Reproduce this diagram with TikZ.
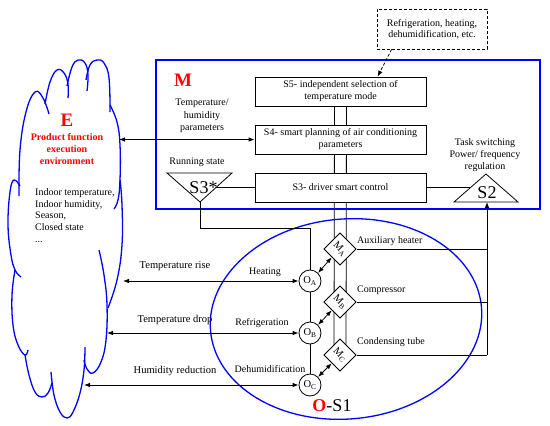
\documentclass[tikz,border=0pt]{standalone}
\usepackage{fontspec}
\setmainfont{Liberation Serif}
\usetikzlibrary{arrows.meta,shapes.geometric,calc,backgrounds}
\begin{document}
\begin{tikzpicture}[x=1pt,y=-1pt,
  every node/.style={font=\fontsize{10}{12}\selectfont, inner sep=0pt},
  line/.style={draw=black, line width=0.8pt},
  arr/.style={draw=black, line width=0.8pt, -{Latex[length=6pt,width=4.5pt]}},
  darr/.style={draw=black, line width=0.8pt, {Latex[length=6pt,width=4.5pt]}-{Latex[length=6pt,width=4.5pt]}},
  sbox/.style={draw, line width=0.8pt, fill=white, minimum width=171pt, minimum height=29pt, align=center},
  bluel/.style={draw=blue, line width=1.3pt},
  onode/.style={draw, circle, fill=white, line width=0.8pt, minimum size=22pt, font=\fontsize{10.5}{12}\selectfont},
  mnode/.style={draw, rectangle, fill=white, line width=0.8pt, minimum size=22.6pt, rotate=-45, font=\fontsize{10.5}{12}\selectfont},
  lbl/.style={font=\fontsize{10.5}{12}\selectfont},
  big/.style={font=\fontsize{18}{18}\selectfont},
  redbig/.style={text=red, font=\fontsize{19}{19}\selectfont\bfseries},
]
\useasboundingbox (0,0) rectangle (550,426);

% ---------- cloud E ----------
\draw[bluel] plot[smooth, tension=0.7] coordinates {(20,186) (14,180) (10,192) (8,225) (11,255) (15,270) (21,277)};
\draw[bluel] plot[smooth, tension=0.7] coordinates {(19,196) (20,150) (26,112) (35,92) (43,98) (49,114)};
\draw[bluel] plot[smooth, tension=0.7] coordinates {(45,104) (50,82) (57,70) (64,73) (68,84) (68,98)};
\draw[bluel] plot[smooth, tension=0.7] coordinates {(67,86) (72,67) (78,60) (85,63) (88,75) (87,91)};
\draw[bluel] plot[smooth, tension=0.7] coordinates {(86,80) (90,65) (97,60) (104,63) (109,78) (110,112)};
\draw[bluel] plot[smooth, tension=0.7] coordinates {(110,105) (117,122) (120,145) (120,180) (118,200) (114,209)};
\draw[bluel] plot[smooth, tension=0.7] coordinates {(120,180) (122,205) (122,245) (117,280) (108,308)};
\draw[bluel] plot[smooth, tension=0.7] coordinates {(99,250) (104,275) (107,305) (106,340) (101,362) (93,373) (87,369) (84,360)};
\draw[bluel] plot[smooth, tension=0.7] coordinates {(85,347) (84,370) (80,393) (73,412) (67,418) (60,412) (54,395) (51,372)};
\draw[bluel] plot[smooth, tension=0.7] coordinates {(52,383) (48,393) (42,397) (35,392) (29,375) (25,355)};
\draw[bluel] plot[smooth, tension=0.7] coordinates {(15,270) (12,295) (13,325) (18,345) (25,355) (28,350)};

\node[redbig] (E) at (67,120) {E};
\node[text=red, font=\fontsize{10}{12}\selectfont\bfseries, align=center] (Etxt) at (67,149) {Product function\\execution\\environment};
\node[anchor=west, align=left, font=\fontsize{10}{11.8}\selectfont] (envtxt) at (35,215.5) {Indoor temperature,\\Indoor humidity,\\Season,\\Closed state\\...};

% ---------- frame M and ellipse O-S1 ----------
\draw[bluel] (156,60) rectangle (540,209);
\draw[bluel, rotate around={5:(346,319)}] (346,319) ellipse [x radius=136pt, y radius=100pt];

\node[redbig] (M) at (183,80) {M};

% ---------- boxes ----------
\node[sbox] (S5) at (340.5,91.5) {S5- independent selection of\\temperature mode};
\node[sbox] (S4) at (340.5,139.5) {S4- smart planning of air conditioning\\parameters};
\node[sbox] (S3) at (340.5,187.5) {S3- driver smart control};

\node[draw, dashed, dash pattern=on 3pt off 2pt, line width=0.8pt, minimum width=110pt, minimum height=40pt, align=center, font=\fontsize{10}{10.5}\selectfont] (DB) at (432,29) {Refrigeration, heating,\\dehumidification, etc.};
\draw[arr, dash pattern=on 3pt off 2pt] ([xshift=15pt]DB.south west) -- ([xshift=123pt]S5.north west);

% ---------- diamonds and circles ----------
\node[mnode] (MA) at (340,249) {M\textsubscript{A}};
\node[mnode] (MB) at (340,302) {M\textsubscript{B}};
\node[mnode] (MC) at (340,355) {M\textsubscript{C}};

\node[onode] (OA) at (310,281) {O\textsubscript{A}};
\node[onode] (OB) at (310,333) {O\textsubscript{B}};
\node[onode] (OC) at (310,385) {O\textsubscript{C}};

\begin{pgfonlayer}{background}
\draw[line] ([xshift=-6pt]S5.south) -- ([xshift=-6pt]MC.center);
\draw[line] ([xshift=6pt]S5.south) -- ([xshift=6pt]MC.center);
\end{pgfonlayer}

% ---------- S3* triangle ----------
\coordinate (t1) at (167,173);
\coordinate (t2) at (232,173);
\coordinate (t3) at (200,202);
\draw[line, line join=miter] (t1) -- (t2) -- (t3) -- cycle;
\node[big] (S3s) at (203.5,188) {S3*};
\coordinate (s3r) at (215.5,187.5);
\draw[line] (s3r) -- (S3.west);
\draw[line] (t3) -- ++(0,26) -| (OA.north);

% ---------- S2 triangle ----------
\coordinate (u1) at (454,202);
\coordinate (u2) at (518,202);
\coordinate (u3) at (486,174);
\draw[line, line join=miter] (u1) -- (u2) -- (u3) -- cycle;
\node[big] (S2) at (487,193) {S2};
\coordinate (s2l) at (470,187.5);
\draw[line] (S3.east) -- (s2l);
\coordinate (s2b) at (487,202);
\coordinate (rA) at (487,249);
\coordinate (rB) at (487,302);
\coordinate (rC) at (487,355);
\draw[line] (MA.north east) -- (rA);
\draw[line] (MB.north east) -- (rB);
\draw[line] (MC.north east) -- (rC);
\draw[arr] (rC) -- (s2b);

% ---------- O links ----------
\draw[line] (OA.south) -- (OB.north);
\draw[line] (OB.south) -- (OC.north);
\draw[darr] (OA.45) -- (MA.south);
\draw[darr] (OB.45) -- (MB.south);
\draw[darr] (OC.45) -- (MC.south);

% ---------- arrows to cloud ----------
\coordinate (cS4) at (119,139.5);
\coordinate (cA) at (123,281);
\coordinate (cB) at (107,333);
\coordinate (cC) at (84,385);
\draw[darr] (cS4) -- (S4.west);
\draw[darr] (cA) -- (OA.west);
\draw[darr] (cB) -- (OB.west);
\draw[darr] (cC) -- (OC.west);

% ---------- labels ----------
\node[align=center, font=\fontsize{10}{12.5}\selectfont] (thp) at (202,116) {Temperature/\\humidity\\parameters};
\node (run) at (197,162) {Running state};
\node[align=center] (task) at (485,155.5) {Task switching\\Power/ frequency\\regulation};

\node[lbl] (trise) at (175,266) {Temperature rise};
\node[lbl] (tdrop) at (175,320) {Temperature drop};
\node[lbl] (hred) at (175,371) {Humidity reduction};
\node (heat) at (265,272) {Heating};
\node (refr) at (262,323) {Refrigeration};
\node (dehu) at (270,369) {Dehumidification};

\node[anchor=west] (aux) at (357,241) {Auxiliary heater};
\node[anchor=west] (comp) at (357,290) {Compressor};
\node[anchor=west] (cond) at (357,342) {Condensing tube};

\node[font=\fontsize{18}{18}\selectfont] (OS1) at (332,406) {{\color{red}\bfseries O}-S1};
\end{tikzpicture}
\end{document}
